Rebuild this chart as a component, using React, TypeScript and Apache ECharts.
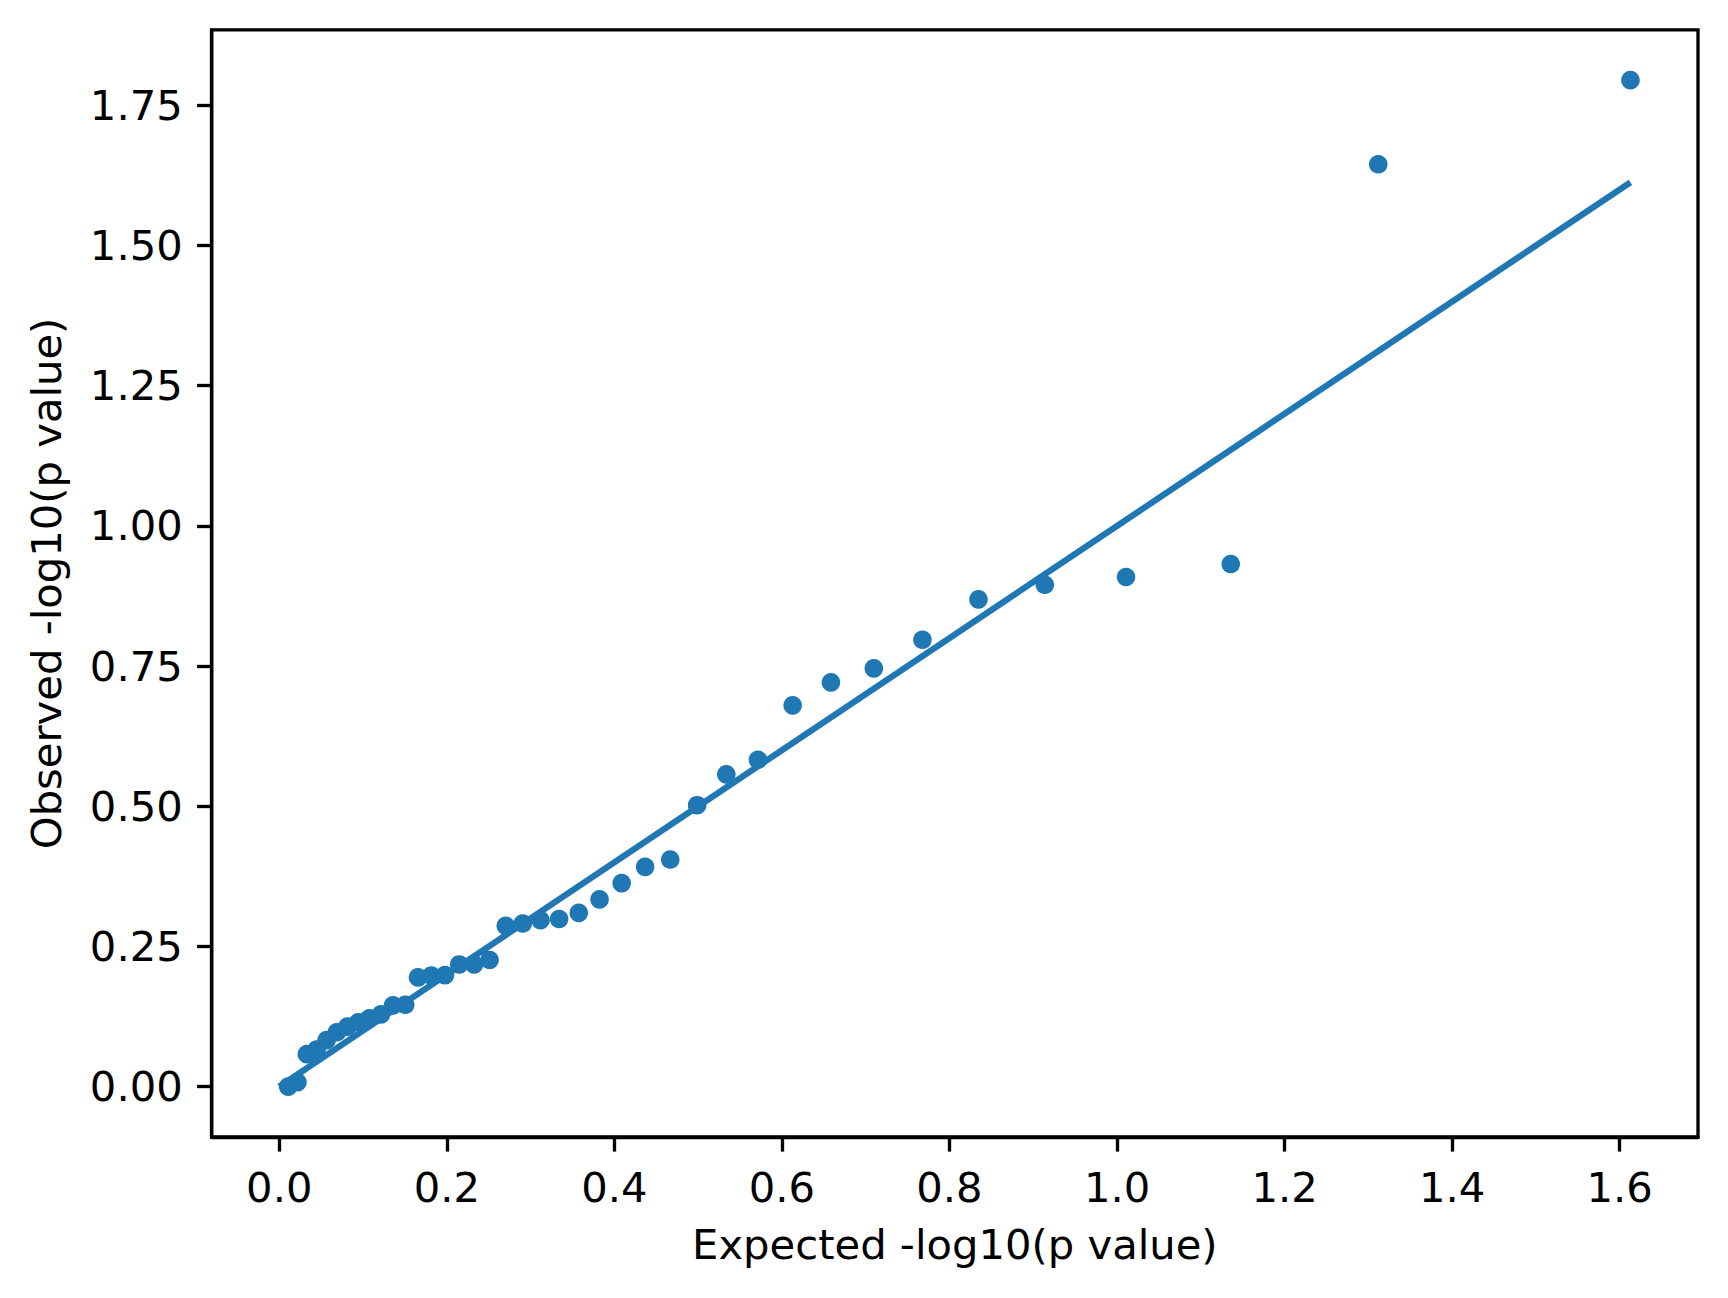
import React, { useEffect, useRef } from "react";
import * as echarts from "echarts";

// Expected -log10(p) (x) and observed -log10(p) (y)
const expected = [
  0.0107, 0.0217, 0.033, 0.0446, 0.0565, 0.0687, 0.0813, 0.0943, 0.1076, 0.1214,
  0.1357, 0.1504, 0.1656, 0.1814, 0.1978, 0.2148, 0.2326, 0.2511, 0.2704, 0.2906,
  0.3118, 0.334, 0.3575, 0.3823, 0.4087, 0.4367, 0.4667, 0.4988, 0.5336, 0.5714,
  0.6128, 0.6585, 0.7097, 0.7677, 0.8346, 0.9138, 1.0107, 1.1357, 1.3118, 1.6128,
];
const observed = [
  0.0, 0.008, 0.058, 0.066, 0.083, 0.097, 0.107, 0.115, 0.122, 0.129,
  0.145, 0.146, 0.195, 0.198, 0.199, 0.218, 0.218, 0.226, 0.287, 0.291,
  0.297, 0.299, 0.31, 0.334, 0.363, 0.392, 0.405, 0.502, 0.557, 0.583,
  0.68, 0.721, 0.746, 0.797, 0.869, 0.895, 0.909, 0.932, 1.645, 1.795,
];
const refLineX = [0, 1.6128];
const refLineY = [0, 1.6128];
const xTicks = [0, 0.2, 0.4, 0.6, 0.8, 1.0, 1.2, 1.4, 1.6];
const yTicks = [0, 0.25, 0.5, 0.75, 1.0, 1.25, 1.5, 1.75];
const xLabel = "Expected -log10(p value)";
const yLabel = "Observed -log10(p value)";

const BLUE = "#1f77b4";
const FONT = "DejaVu Sans";
const FS = 41.7;

export default function App() {
  const ref = useRef<HTMLDivElement>(null);
  useEffect(() => {
    if (!ref.current) return;
    const chart = echarts.init(ref.current, null, { renderer: "svg" });

    const allX = [...expected, ...refLineX];
    const allY = [...observed, ...refLineY];
    const x0 = Math.min(...allX), x1 = Math.max(...allX);
    const y0 = Math.min(...allY), y1 = Math.max(...allY);
    const xm = 0.05 * (x1 - x0), ym = 0.05 * (y1 - y0);

    const axisCommon = {
      type: "value" as const,
      splitLine: { show: false },
      axisLine: { show: true, onZero: false, lineStyle: { color: "#000", width: 3.33 } },
      nameLocation: "middle" as const,
      nameTextStyle: { fontFamily: FONT, fontSize: FS, color: "#000" },
    };

    chart.setOption({
      animation: false,
      backgroundColor: "#fff",
      grid: {
        left: 211.7,
        top: 29.8,
        right: 30,
        bottom: 161,
        show: true,
        borderColor: "#000",
        borderWidth: 3.33,
        backgroundColor: "transparent",
      },
      xAxis: {
        ...axisCommon,
        min: x0 - xm,
        max: x1 + xm,
        name: xLabel,
        nameGap: 86,
        axisTick: {
          show: true,
          inside: false,
          length: 14.6,
          lineStyle: { color: "#000", width: 3.33 },
          customValues: xTicks,
        },
        axisLabel: {
          customValues: xTicks,
          margin: 29,
          fontFamily: FONT,
          fontSize: FS,
          color: "#000",
          formatter: (v: number) => v.toFixed(1),
        },
      },
      yAxis: {
        ...axisCommon,
        min: y0 - ym,
        max: y1 + ym,
        name: yLabel,
        nameGap: 144,
        axisTick: {
          show: true,
          inside: false,
          length: 14.6,
          lineStyle: { color: "#000", width: 3.33 },
          customValues: yTicks,
        },
        axisLabel: {
          customValues: yTicks,
          margin: 29,
          fontFamily: FONT,
          fontSize: FS,
          color: "#000",
          formatter: (v: number) => v.toFixed(2),
        },
      },
      series: [
        {
          type: "scatter",
          data: expected.map((x, i) => [x, observed[i]]),
          symbol: "circle",
          symbolSize: 18.6,
          itemStyle: { color: BLUE, opacity: 1 },
          z: 2,
        },
        {
          type: "line",
          data: refLineX.map((x, i) => [x, refLineY[i]]),
          showSymbol: false,
          symbol: "none",
          lineStyle: { color: BLUE, width: 6.25 },
          z: 3,
        },
      ],
    });
    return () => chart.dispose();
  }, []);
  return (
    <div
      ref={ref}
      style={{ position: "absolute", left: 0, top: 0, width: 1728, height: 1298 }}
    />
  );
}
